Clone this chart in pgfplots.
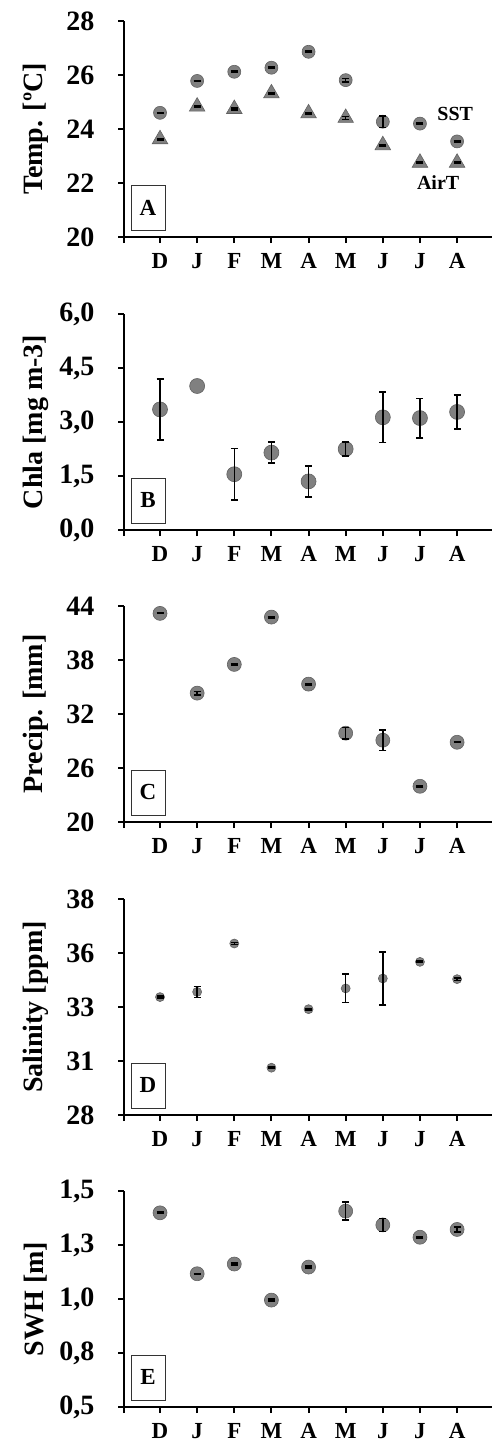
\documentclass[border=0pt]{standalone}
\usepackage{fontspec}
\setmainfont{Liberation Serif}
\usepackage{pgfplots}
\pgfplotsset{compat=1.18}

\pgfplotsset{
  frame/.style={scale only axis, width=368pt, height=216pt,
    xmin=0.03, xmax=9.94, clip=false},
  panel/.style={frame,
    axis x line*=bottom, axis y line*=left,
    axis line style={line width=2.5pt},
    tick align=outside, major tick length=6pt,
    tick style={line width=2pt, black},
    xtick={0.03,1,2,3,4,5,6,7,8,9},
    xticklabels={,D,J,F,M,A,M,J,J,A},
    xticklabel style={font=\fontsize{23}{26}\selectfont\bfseries, yshift=-7pt},
    yticklabel style={font=\fontsize{28}{30}\selectfont\bfseries, xshift=-20pt},
    ylabel style={font=\fontsize{28}{32}\selectfont\bfseries,
                  at={(axis description cs:-0.239,0.5)}, anchor=center},
  },
  overlay/.style={frame, hide axis},
  dot/.style={only marks, mark=*, mark size=#1,
              mark options={fill=black!50, draw=black!62, line width=0.6pt}},
  tri/.style={only marks, mark=triangle*, mark size=9pt,
              mark options={fill=black!50, draw=black!62, line width=0.6pt}},
  errs/.style={draw=none, forget plot,
              error bars/.cd, y dir=both, y explicit,
              error bar style={draw=black, line width=1.5pt},
              error mark options={draw=black, rotate=90, mark size=3.5pt, line width=1.5pt}},
}
\newcommand{\panellabel}[1]{\node[draw=black!80, line width=0.8pt, minimum width=34pt,
  minimum height=45pt, inner sep=0pt, font=\fontsize{23}{26}\selectfont\bfseries]
  at (rel axis cs:0.065,0.137) {#1};}

\begin{document}
\begin{tikzpicture}
\useasboundingbox (0,0) rectangle (492pt,-1448pt);

% A: temperature
\begin{axis}[panel, at={(124pt,-237pt)}, anchor=south west,
  ymin=20, ymax=28, ytick={20,22,24,26,28},
  yticklabels={20,22,24,26,28},
  ylabel={Temp. [ºC]}]
\addplot[dot=6.5pt] coordinates {(1,24.60) (2,25.78) (3,26.12) (4,26.27) (5,26.86)
  (6,25.81) (7,24.27) (8,24.20) (9,23.54)};
\addplot[tri] coordinates {(1,23.62) (2,24.83) (3,24.74) (4,25.32) (5,24.58)
  (6,24.41) (7,23.40) (8,22.75) (9,22.75)};
\node[font=\fontsize{20}{24}\selectfont\bfseries] at (axis cs:8.95,24.54) {SST};
\node[font=\fontsize{20}{24}\selectfont\bfseries] at (axis cs:8.49,22.01) {AirT};
\panellabel{A}
\end{axis}
\begin{axis}[overlay, at={(124pt,-237pt)}, anchor=south west, ymin=20, ymax=28]
\addplot[errs] coordinates {(1,24.60) +- (0,0.02) (2,25.78) +- (0,0.02) (3,26.12) +- (0,0.02)
  (4,26.27) +- (0,0.02) (5,26.86) +- (0,0.02) (6,25.81) +- (0,0.06) (7,24.27) +- (0,0.22)
  (8,24.20) +- (0,0.02) (9,23.54) +- (0,0.02)};
\addplot[errs] coordinates {(1,23.62) +- (0,0.03) (2,24.83) +- (0,0.02) (3,24.74) +- (0,0.03)
  (4,25.32) +- (0,0.03) (5,24.58) +- (0,0.03) (6,24.41) +- (0,0.05) (7,23.40) +- (0,0.03)
  (8,22.75) +- (0,0.03) (9,22.75) +- (0,0.03)};
\end{axis}

% B: chlorophyll
\begin{axis}[panel, at={(124pt,-530pt)}, anchor=south west,
  ymin=0, ymax=6, ytick={0,1.5,3,4.5,6},
  yticklabels={{0,0},{1,5},{3,0},{4,5},{6,0}},
  ylabel={Chla [mg m-3]}]
\addplot[dot=7.5pt] coordinates {(1,3.35) (2,4.00) (3,1.55) (4,2.15) (5,1.35)
  (6,2.25) (7,3.13) (8,3.11) (9,3.28)};
\panellabel{B}
\end{axis}
\begin{axis}[overlay, at={(124pt,-530pt)}, anchor=south west, ymin=0, ymax=6]
\addplot[errs] coordinates {(1,3.35) +- (0,0.85) (3,1.55) +- (0,0.72) (4,2.15) +- (0,0.29)
  (5,1.35) +- (0,0.43) (6,2.25) +- (0,0.20) (7,3.13) +- (0,0.70) (8,3.11) +- (0,0.55)
  (9,3.28) +- (0,0.47)};
\end{axis}

% C: precipitation
\begin{axis}[panel, at={(124pt,-822pt)}, anchor=south west,
  ymin=20, ymax=44, ytick={20,26,32,38,44},
  yticklabels={20,26,32,38,44},
  ylabel={Precip. [mm]}]
\addplot[dot=7pt] coordinates {(1,43.18) (2,34.32) (3,37.51) (4,42.77) (5,35.32)
  (6,29.87) (7,29.09) (8,23.97) (9,28.86)};
\panellabel{C}
\end{axis}
\begin{axis}[overlay, at={(124pt,-822pt)}, anchor=south west, ymin=20, ymax=44]
\addplot[errs] coordinates {(1,43.18) +- (0,0.03) (2,34.32) +- (0,0.20) (3,37.51) +- (0,0.08)
  (4,42.77) +- (0,0.08) (5,35.32) +- (0,0.08) (6,29.87) +- (0,0.63) (7,29.09) +- (0,1.15)
  (8,23.97) +- (0,0.08) (9,28.86) +- (0,0.04)};
\end{axis}

% D: salinity
\begin{axis}[panel, at={(124pt,-1115pt)}, anchor=south west,
  ymin=28, ymax=38, ytick={28,30.5,33,35.5,38},
  yticklabels={28,31,33,36,38},
  ylabel={Salinity [ppm]}]
\addplot[dot=4.5pt] coordinates {(1,33.46) (2,33.70) (3,35.94) (4,30.19) (5,32.90)
  (6,33.86) (7,34.32) (8,35.09) (9,34.29)};
\panellabel{D}
\end{axis}
\begin{axis}[overlay, at={(124pt,-1115pt)}, anchor=south west, ymin=28, ymax=38]
\addplot[errs] coordinates {(1,33.46) +- (0,0.04) (2,33.70) +- (0,0.25) (3,35.94) +- (0,0.04)
  (4,30.19) +- (0,0.04) (5,32.90) +- (0,0.04) (6,33.86) +- (0,0.66) (7,34.32) +- (0,1.22)
  (8,35.09) +- (0,0.04) (9,34.29) +- (0,0.06)};
\end{axis}

% E: significant wave height
\begin{axis}[panel, at={(124pt,-1407pt)}, anchor=south west,
  ymin=0.5, ymax=1.5, ytick={0.5,0.75,1,1.25,1.5},
  yticklabels={{0,5},{0,8},{1,0},{1,3},{1,5}},
  ylabel={SWH [m]}]
\addplot[dot=7pt] coordinates {(1,1.399) (2,1.117) (3,1.162) (4,0.995) (5,1.148)
  (6,1.407) (7,1.343) (8,1.286) (9,1.322)};
\panellabel{E}
\end{axis}
\begin{axis}[overlay, at={(124pt,-1407pt)}, anchor=south west, ymin=0.5, ymax=1.5]
\addplot[errs] coordinates {(1,1.399) +- (0,0.004) (2,1.117) +- (0,0.002) (3,1.162) +- (0,0.004)
  (4,0.995) +- (0,0.004) (5,1.148) +- (0,0.004) (6,1.407) +- (0,0.041) (7,1.343) +- (0,0.030)
  (8,1.286) +- (0,0.003) (9,1.322) +- (0,0.012)};
\end{axis}
\end{tikzpicture}
\end{document}
